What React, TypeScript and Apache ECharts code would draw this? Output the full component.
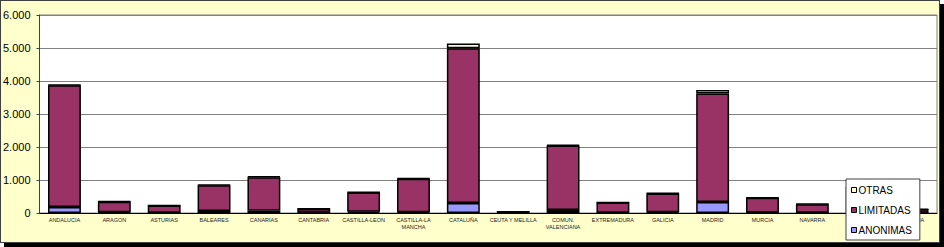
import React, { useEffect, useRef } from "react";
import * as echarts from "echarts";

const categories = [
  "ANDALUCIA", "ARAGON", "ASTURIAS", "BALEARES", "CANARIAS", "CANTABRIA",
  "CASTILLA-LEON", "CASTILLA-LA\nMANCHA", "CATALUÑA", "CEUTA Y MELILLA",
  "COMUN.\nVALENCIANA", "EXTREMADURA", "GALICIA", "MADRID", "MURCIA",
  "NAVARRA", "PAIS VASCO", "LA RIOJA",
];
const anonimas = [180, 20, 10, 60, 70, 5, 40, 20, 300, 5, 90, 10, 20, 330, 15, 10, 50, 5];
const limitadas = [3695, 320, 215, 780, 1015, 120, 585, 1020, 4695, 30, 1955, 305, 570, 3295, 445, 255, 740, 110];
const otras = [10, 10, 5, 15, 20, 3, 10, 15, 140, 2, 20, 5, 12, 100, 10, 8, 15, 3];
const yTicks = [0, 1000, 2000, 3000, 4000, 5000, 6000];

const FONT = "Arial, 'Liberation Sans', sans-serif";

export default function App() {
  const ref = useRef<HTMLDivElement>(null);
  useEffect(() => {
    document.body.style.margin = "0";
    if (!ref.current) return;
    const chart = echarts.init(ref.current, null, { renderer: "svg" });
    const barStyle = (color: string) => ({ color, borderColor: "#000", borderWidth: 1.5 });
    chart.setOption({
      animation: false,
      backgroundColor: "transparent",
      grid: {
        left: 38, right: 7, top: 15, bottom: 34,
        show: true, backgroundColor: "#ffffff", borderColor: "#808080", borderWidth: 1,
      },
      legend: {
        orient: "vertical",
        left: 846, top: 179,
        data: ["OTRAS", "LIMITADAS", "ANONIMAS"],
        icon: "rect",
        backgroundColor: "#ffffff",
        borderColor: "#404040", borderWidth: 1,
        padding: [5, 8, 4, 5],
        itemWidth: 5, itemHeight: 5, itemGap: 8,
        itemStyle: { borderColor: "#000", borderWidth: 1 },
        textStyle: { fontFamily: FONT, fontSize: 10, color: "#000", lineHeight: 12, padding: [0, 0, 0, -3] },
        z: 10,
      },
      xAxis: {
        type: "category",
        data: categories,
        axisLine: { lineStyle: { color: "#000", width: 1 } },
        axisTick: { show: false },
        axisLabel: {
          interval: 0, fontFamily: FONT, fontSize: 5.5, color: "#222",
          margin: 4, lineHeight: 6.7,
        },
      },
      yAxis: {
        type: "value",
        min: 0, max: yTicks[yTicks.length - 1], interval: 1000,
        axisLine: { show: true, lineStyle: { color: "#404040", width: 1 } },
        axisTick: { show: true, length: 3, lineStyle: { color: "#404040" } },
        splitLine: { lineStyle: { color: "#808080", width: 1 } },
        axisLabel: {
          fontFamily: FONT, fontSize: 11, color: "#000", margin: 9,
          formatter: (v: number) => v.toLocaleString("de-DE"),
        },
      },
      series: [
        { name: "ANONIMAS", type: "bar", stack: "t", data: anonimas, itemStyle: barStyle("#9999FF"), barWidth: "66%" },
        { name: "LIMITADAS", type: "bar", stack: "t", data: limitadas, itemStyle: barStyle("#993366"), barWidth: "66%" },
        { name: "OTRAS", type: "bar", stack: "t", data: otras, itemStyle: barStyle("#FFFFCC"), barWidth: "66%" },
      ],
    });
    return () => chart.dispose();
  }, []);
  return (
    <div style={{ position: "relative", width: 944, height: 247 }}>
      <div style={{ position: "absolute", left: 4, top: 4, width: 940, height: 243, background: "#000" }} />
      <div style={{ position: "absolute", left: 0, top: 0, width: 940, height: 243, boxSizing: "border-box", border: "1px solid #404040", background: "#FFFFCC" }} />
      <div ref={ref} style={{ position: "absolute", left: 0, top: 0, width: 944, height: 247 }} />
    </div>
  );
}
